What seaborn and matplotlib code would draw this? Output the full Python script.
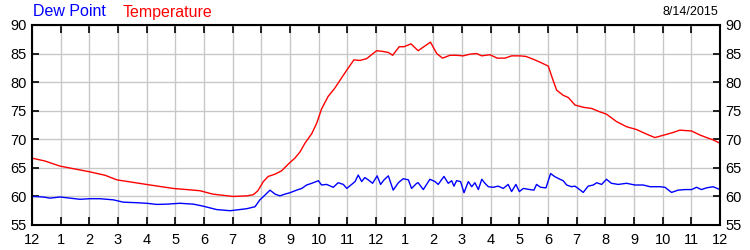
import matplotlib
matplotlib.use("Agg")
import matplotlib.pyplot as plt
import seaborn as sns
import pandas as pd

# ---- data (hours since midnight, degrees F) ----
temp_hours = [0.0, 0.45, 0.98, 1.5, 2.02, 2.55, 2.96, 4.12, 4.92, 5.86, 6.31, 7.01, 7.49, 7.72,
              7.88, 8.07, 8.24, 8.48, 8.71, 8.97, 9.17, 9.35, 9.52, 9.76, 9.93, 10.1, 10.33,
              10.57, 10.74, 10.98, 11.23, 11.44, 11.67, 12.02, 12.2, 12.43, 12.58, 12.81, 12.98,
              13.22, 13.47, 13.9, 14.12, 14.32, 14.58, 14.81, 15.04, 15.28, 15.51, 15.69, 15.97,
              16.23, 16.5, 16.73, 17.02, 17.23, 17.49, 17.72, 18.01, 18.13, 18.3, 18.53, 18.71,
              18.94, 19.23, 19.52, 19.81, 20.04, 20.39, 20.74, 21.09, 21.44, 21.73, 22.02, 22.37,
              22.6, 23.01, 23.3, 23.53, 23.76, 24.0]
temperature = [66.7, 66.2, 65.3, 64.8, 64.3, 63.7, 62.9, 62.0, 61.4, 61.0, 60.4, 60.0, 60.1, 60.3,
               61.0, 62.6, 63.5, 63.9, 64.5, 65.8, 66.7, 67.8, 69.3, 71.0, 72.8, 75.3, 77.5,
               79.0, 80.3, 82.1, 83.9, 83.8, 84.1, 85.5, 85.4, 85.2, 84.7, 86.2, 86.2,
               86.7, 85.5, 87.0, 85.0, 84.2, 84.7, 84.7, 84.6, 84.9, 85.0, 84.6, 84.8,
               84.2, 84.2, 84.6, 84.6, 84.5, 84.0, 83.5, 82.8, 81.0, 78.6, 77.7, 77.3,
               76.0, 75.6, 75.4, 74.8, 74.4, 73.1, 72.2, 71.7, 70.9, 70.3, 70.7, 71.2,
               71.6, 71.45, 70.75, 70.3, 69.9, 69.3]

dew_hours = [0.0, 0.39, 0.63, 0.98, 1.33, 1.67, 2.02, 2.37, 2.84, 3.18, 3.65, 4.0, 4.35, 4.7,
             5.16, 5.63, 5.97, 6.44, 6.91, 7.08, 7.49, 7.78, 7.95, 8.13, 8.3, 8.48, 8.65, 8.82,
             9.0, 9.23, 9.41, 9.58, 9.76, 9.99, 10.1, 10.28, 10.51, 10.68, 10.86, 10.98, 11.15,
             11.27, 11.38, 11.5, 11.61, 11.73, 11.88, 12.04, 12.16, 12.28, 12.43, 12.6, 12.78,
             12.95, 13.13, 13.24, 13.42, 13.47, 13.65, 13.88, 14.06, 14.17, 14.37, 14.52, 14.64,
             14.72, 14.81, 14.95, 15.07, 15.22, 15.34, 15.45, 15.57, 15.69, 15.8, 15.92, 16.09,
             16.26, 16.44, 16.61, 16.73, 16.88, 17.0, 17.14, 17.37, 17.51, 17.6, 17.74, 17.93,
             18.09, 18.24, 18.42, 18.53, 18.65, 18.82, 18.94, 19.05, 19.23, 19.4, 19.58, 19.7,
             19.87, 20.04, 20.21, 20.45, 20.74, 21.03, 21.32, 21.56, 21.91, 22.08, 22.31, 22.54,
             22.78, 23.01, 23.18, 23.35, 23.53, 23.76, 24.0]
dew_point = [60.0, 59.9, 59.7, 59.9, 59.7, 59.5, 59.6, 59.6, 59.4, 59.0, 58.9, 58.8, 58.6, 58.65,
             58.8, 58.65, 58.3, 57.7, 57.5, 57.6, 57.85, 58.2, 59.4, 60.25, 61.1, 60.4, 60.1, 60.4,
             60.65, 61.1, 61.4, 62.0, 62.3, 62.75, 62.0, 62.1, 61.6, 62.4, 62.1, 61.4, 62.1,
             62.6, 63.75, 62.6, 63.3, 62.9, 62.3, 63.6, 62.1, 62.9, 63.6, 61.1, 62.4,
             63.1, 62.9, 61.4, 62.3, 62.4, 61.2, 63.0, 62.6, 62.1, 63.5, 62.3, 62.75,
             61.8, 62.75, 62.6, 60.65, 62.6, 61.7, 62.4, 61.2, 63.0, 62.3, 61.7, 61.6,
             61.8, 61.4, 62.1, 60.85, 62.1, 60.85, 61.4, 61.2, 61.1, 62.1, 61.6, 61.5,
             64.0, 63.45, 63.0, 62.75, 62.0, 61.7, 61.8, 61.4, 60.7, 61.8, 62.0, 62.4,
             62.1, 63.0, 62.3, 62.1, 62.3, 62.0, 62.0, 61.7, 61.7, 61.6, 60.7, 61.1,
             61.2, 61.2, 61.6, 61.2, 61.5, 61.7, 61.2]

hour_labels = ["12", "1", "2", "3", "4", "5", "6", "7", "8", "9", "10", "11",
               "12", "1", "2", "3", "4", "5", "6", "7", "8", "9", "10", "11", "12"]
y_ticks = [55, 60, 65, 70, 75, 80, 85, 90]
date_label = "8/14/2015"

# ---- style ----
sns.set_style("white")
plt.rcParams["font.family"] = ["Liberation Sans", "DejaVu Sans"]

fig = plt.figure(figsize=(7.5, 2.5), dpi=100)
ax = fig.add_axes([32 / 750, 25 / 250, 688 / 750, 200 / 250])

temp_df = pd.DataFrame({"hour": temp_hours, "value": temperature})
dew_df = pd.DataFrame({"hour": dew_hours, "value": dew_point})
sns.lineplot(data=temp_df, x="hour", y="value", ax=ax, color="#ff0000", linewidth=1.0)
sns.lineplot(data=dew_df, x="hour", y="value", ax=ax, color="#0000ff", linewidth=1.0)

ax.set_xlim(0, 24)
ax.set_ylim(55, 90)
ax.set_xticks(range(25))
ax.set_xticklabels(hour_labels)
ax.set_yticks(y_ticks)
ax.set_yticklabels([str(v) for v in y_ticks])
ax.set_xlabel("")
ax.set_ylabel("")

ax.grid(True, color="#c8c8c8", linewidth=1.0)
ax.set_axisbelow(True)
for s in ax.spines.values():
    s.set_color("black")
    s.set_linewidth(1.5)

ax.tick_params(axis="x", direction="in", length=6, width=1.2, top=True, bottom=True,
               labeltop=False, labelbottom=True, labelsize=10.5, pad=6, colors="black")
ax.tick_params(axis="y", direction="in", length=5, width=1.2, left=True, right=True,
               labelleft=True, labelright=True, labelsize=10.5, pad=4, colors="black")

fig.text(33 / 750, 1 - 12 / 250, "Dew Point", color="#0000ff", fontsize=11.5,
         ha="left", va="center")
fig.text(123 / 750, 1 - 12 / 250, "Temperature", color="#ff0000", fontsize=11.5,
         ha="left", va="center")
fig.text(718 / 750, 1 - 12 / 250, date_label, color="black", fontsize=9,
         ha="right", va="center")

fig.savefig("out.png", dpi=100)
